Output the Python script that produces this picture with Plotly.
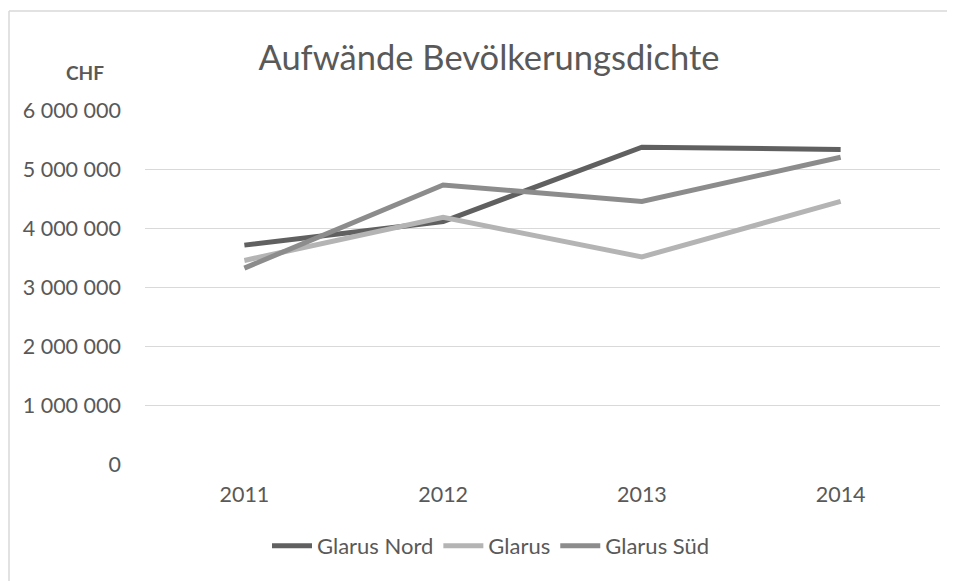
import plotly.graph_objects as go

years = ["2011", "2012", "2013", "2014"]
glarus_nord = [3710000, 4110000, 5370000, 5330000]
glarus = [3450000, 4180000, 3510000, 4450000]
glarus_sued = [3320000, 4730000, 4450000, 5200000]
series_names = ["Glarus Nord", "Glarus", "Glarus Süd"]
y_ticks = [0, 1000000, 2000000, 3000000, 4000000, 5000000, 6000000]

colors = ["#606060", "#b4b4b4", "#8c8c8c"]
FONT = "Lato, Calibri, Carlito, 'Liberation Sans', Arial, sans-serif"
TXT = "#595959"

# page is rendered with an 8px body margin, so the figure is shifted by 8px
W, H = 947, 573
L, R, T, B = 137, 15, 102, 117
PW, PH = W - L - R, H - T - B

def px(x):
    return (x - 8 - L) / PW

def py(y):
    return (H - B - (y - 8)) / PH

fig = go.Figure()
for name, vals, c in zip(series_names, [glarus_nord, glarus, glarus_sued], colors):
    fig.add_trace(go.Scatter(x=years, y=vals, name=name, mode="lines",
                             line=dict(color=c, width=5)))

fig.update_layout(
    width=W, height=H,
    margin=dict(l=L, r=R, t=T, b=B),
    paper_bgcolor="white", plot_bgcolor="white",
    separators=". ",
    font=dict(family=FONT, color=TXT, size=21.5),
    title=dict(text="Aufwände Bevölkerungsdichte", x=(489 - 8) / W, xanchor="center",
               y=1 - (58 - 8) / H, yanchor="middle", yref="container",
               font=dict(size=34.5, color=TXT, family=FONT)),
    showlegend=True,
    legend=dict(orientation="h", x=px(491), xanchor="center", y=py(546), yanchor="middle",
                font=dict(size=22, color=TXT), itemwidth=40, tracegroupgap=0),
    xaxis=dict(type="category", range=[-0.5, 3.5], showgrid=False, zeroline=False,
               showline=False, ticks="", tickfont=dict(size=21.5, color=TXT),
               ticklabelstandoff=15),
    yaxis=dict(range=[0, 6000000], tickvals=y_ticks, tickformat=",d",
               showgrid=True, gridcolor="#d9d9d9", gridwidth=1.3, zeroline=False,
               showline=False, ticks="", tickfont=dict(size=21.5, color=TXT),
               ticklabelstandoff=23),
    annotations=[dict(text="<b>CHF</b>", xref="paper", yref="paper",
                      x=px(85), y=py(72), xanchor="center", yanchor="middle",
                      showarrow=False, font=dict(size=19, color=TXT, family=FONT))],
    shapes=[
        dict(type="line", xref="paper", yref="paper",
             x0=px(9), x1=px(970), y0=py(11), y1=py(11),
             line=dict(color="#d9d9d9", width=1.5)),
        dict(type="line", xref="paper", yref="paper",
             x0=px(9), x1=px(9), y0=py(11), y1=py(600),
             line=dict(color="#d9d9d9", width=1.5)),
    ],
)

fig.write_html("out.html")
